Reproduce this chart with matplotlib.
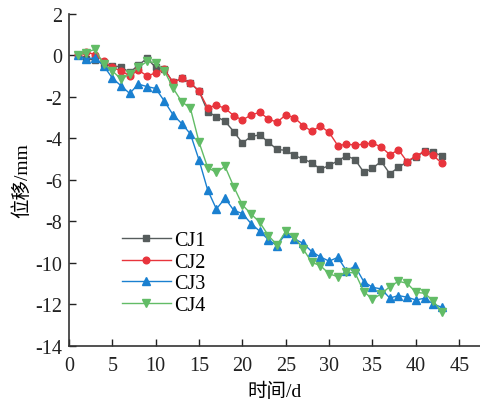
import matplotlib
import matplotlib.pyplot as plt
import numpy as np

''' Displacement vs time for the four monitoring points CJ1-CJ4 '''

matplotlib.use('Agg')
plt.rcParams['axes.unicode_minus'] = False
plt.rcParams['font.family'] = ['Liberation Serif', 'Noto Sans CJK SC']

# days of measurement
days = list(range(1, 44))

# displacement readings (mm)
cj1 = [0, -0.15, -0.22, -0.42, -0.5, -0.55, -0.82, -0.47, -0.14, -0.58,
       -0.66, -1.3, -1.1, -1.32, -1.72, -2.71, -2.95, -3.17, -3.67, -4.22,
       -3.9, -3.83, -4.18, -4.53, -4.57, -4.82, -4.99, -5.17, -5.48, -5.3,
       -5.08, -4.83, -5.02, -5.63, -5.44, -5.1, -5.7, -5.39, -5.12, -4.89,
       -4.62, -4.67, -4.83]
cj2 = [0, 0.18, 0.03, -0.26, -0.58, -0.74, -0.98, -0.71, -0.98, -0.85,
       -0.67, -1.3, -1.11, -1.32, -1.72, -2.53, -2.39, -2.55, -2.9, -3.11,
       -2.87, -2.74, -3.06, -3.22, -2.86, -3.0, -3.38, -3.65, -3.4, -3.71,
       -4.34, -4.28, -4.31, -4.28, -4.22, -4.41, -4.78, -4.55, -5.12, -4.83,
       -4.63, -4.81, -5.2]
cj3 = [0, -0.18, -0.1, -0.5, -1.09, -1.46, -1.83, -1.38, -1.5, -1.59,
       -2.2, -2.86, -3.28, -3.78, -5.04, -6.49, -7.4, -6.88, -7.46, -7.62,
       -8.1, -8.47, -8.88, -9.17, -8.57, -8.84, -9.05, -9.45, -9.71, -9.91,
       -9.73, -10.37, -10.16, -10.9, -11.17, -11.25, -11.69, -11.57, -11.65,
       -11.78, -11.7, -11.97, -12.14]
cj4 = [0, 0.14, 0.3, -0.42, -0.74, -1.14, -0.9, -0.58, -0.29, -0.34,
       -0.74, -1.57, -2.23, -2.54, -4.18, -5.41, -5.63, -5.35, -6.32, -7.2,
       -7.64, -8.04, -8.68, -9.13, -8.47, -8.76, -9.32, -9.97, -10.13, -10.52,
       -10.66, -10.45, -10.48, -11.38, -11.74, -11.49, -11.14, -10.88, -10.98,
       -11.41, -11.46, -11.82, -12.38]

labels = ['CJ1', 'CJ2', 'CJ3', 'CJ4']
colors = ['#565c5c', '#e8343c', '#1a80d0', '#62bc66']
markers = ['s', 'o', '^', 'v']
msizes = [4.2, 4.8, 5.2, 5.2]

xticks = list(range(0, 50, 5))
yticks = list(range(-14, 4, 2))

fig = plt.figure(figsize=(4.8, 4.02), dpi=100)
ax = fig.add_axes([0.1437, 0.1368, 0.8563, 0.826])

for vals, lab, col, mk, ms in zip([cj1, cj2, cj3, cj4], labels, colors, markers, msizes):
    ax.plot(days, vals, color=col, marker=mk, markersize=ms, linewidth=1.0,
            label=lab)

ax.set_xlim(0, 47.4)
ax.set_ylim(-14, 2)
ax.set_xticks(xticks)
ax.set_yticks(yticks)
ax.tick_params(direction='in', length=5, width=1.0, labelsize=14.5,
               colors='#222222')
ax.tick_params(axis='x', pad=7)
ax.tick_params(axis='y', pad=5)
ax.spines['top'].set_visible(False)
ax.spines['right'].set_visible(False)
for s in ['left', 'bottom']:
    ax.spines[s].set_linewidth(1.2)
    ax.spines[s].set_color('#333333')

ax.set_xlabel('时间/d', fontsize=14, labelpad=5)
ax.set_ylabel('位移/mm', fontsize=14, labelpad=3)

ax.legend(loc='upper left', bbox_to_anchor=(0.11, 0.37), frameon=False,
          fontsize=14.5, handlelength=2.4, handletextpad=0.2,
          labelspacing=0.12, borderaxespad=0)

fig.savefig('out.png', dpi=100)
